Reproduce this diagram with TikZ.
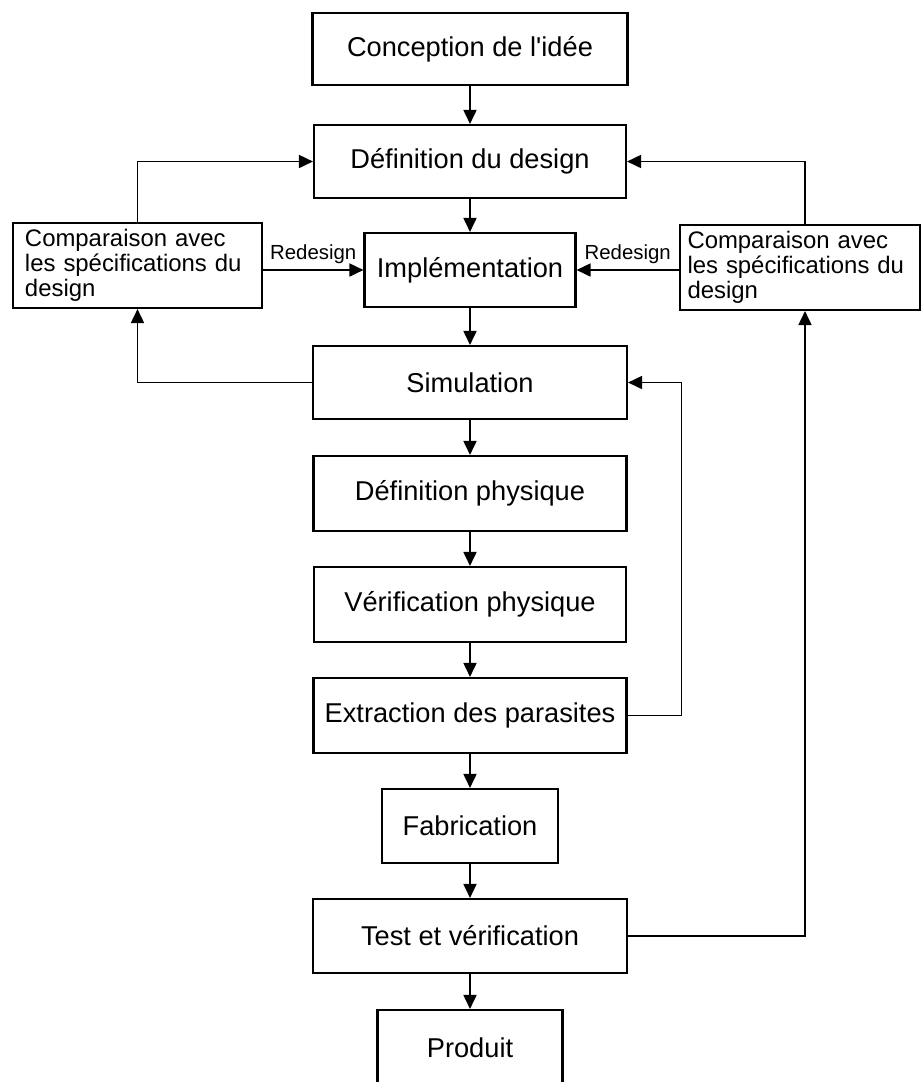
\documentclass[tikz,border=0pt]{standalone}
\usepackage{fontspec}
\setmainfont{Liberation Sans}
\usetikzlibrary{positioning, calc, arrows.meta}

\begin{document}
\begin{tikzpicture}[etape/.style={rectangle, draw=black, line width=1.2pt, minimum height=1.48cm, inner sep=2pt, font=\fontsize{15.5}{18}\selectfont},
    comp/.style={rectangle, draw=black, line width=1.2pt, minimum height=1.7cm, text width=4.5cm, inner xsep=0.24cm, align=left, font=\fontsize{13.6}{14.4}\selectfont},
    fleche/.style={-{Triangle[length=0.28cm, width=0.26cm]}, line width=1pt},
    lbl/.style={font=\fontsize{11.6}{13}\selectfont}]
            \useasboundingbox (0,0) rectangle (18.46,-21.64);
            \node[etape, minimum width=6.3cm, minimum height=1.44cm] (idee) at (9.4,-0.98) {Conception de l\textquotesingle idée};
            \node[etape, minimum width=6.24cm, minimum height=1.46cm] (defdesign) at (9.4,-3.23) {Définition du design};
            \node[etape, minimum width=4.22cm] (impl) at (9.4,-5.4) {Implémentation};
            \node[comp, minimum width=4.98cm] (lcomp) at (2.75,-5.31) {Comparaison avec\\les spécifications du\\design};
            \node[comp, minimum width=4.8cm, inner xsep=0.15cm] (rcomp) at (16.0,-5.35) {Comparaison avec\\les spécifications du\\design};
            \node[etape, minimum width=6.28cm, minimum height=1.46cm] (sim) at (9.4,-7.65) {Simulation};
            \node[etape, minimum width=6.26cm, minimum height=1.5cm] (defphys) at (9.4,-9.87) {Définition physique};
            \node[etape, minimum width=6.24cm, minimum height=1.5cm] (verif) at (9.4,-12.09) {Vérification physique};
            \node[etape, minimum width=6.26cm, minimum height=1.5cm] (extr) at (9.4,-14.31) {Extraction des parasites};
            \node[etape, minimum width=3.52cm] (fab) at (9.4,-16.52) {Fabrication};
            \node[etape, minimum width=6.28cm] (test) at (9.4,-18.72) {Test et vérification};
            \node[etape, minimum width=3.7cm, minimum height=1.52cm] (produit) at (9.4,-20.96) {Produit};
            \coordinate (rx) at (16.1,0);
            \draw[fleche] (idee) -- (defdesign);
            \draw[fleche] (defdesign) -- (impl);
            \draw[fleche] (impl) -- (sim);
            \draw[fleche] (sim) -- (defphys);
            \draw[fleche] (defphys) -- (verif);
            \draw[fleche] (verif) -- (extr);
            \draw[fleche] (extr) -- (fab);
            \draw[fleche] (fab) -- (test);
            \draw[fleche] (test) -- (produit);
            \draw[fleche] (lcomp.north) |- (defdesign.west);
            \draw[fleche] (rcomp.north -| rx) |- (defdesign.east);
            \draw[fleche] (lcomp.east |- impl.west) -- node[lbl, above] {Redesign} (impl.west);
            \draw[fleche] (rcomp.west |- impl.east) -- node[lbl, above] {Redesign} (impl.east);
            \draw[fleche] (sim.west) -| (lcomp.south);
            \draw[fleche] (extr.east) -- ++(1.08,0) |- (sim.east);
            \draw[fleche] (test.east) -| (rcomp.south -| rx);
        \end{tikzpicture}
\end{document}
